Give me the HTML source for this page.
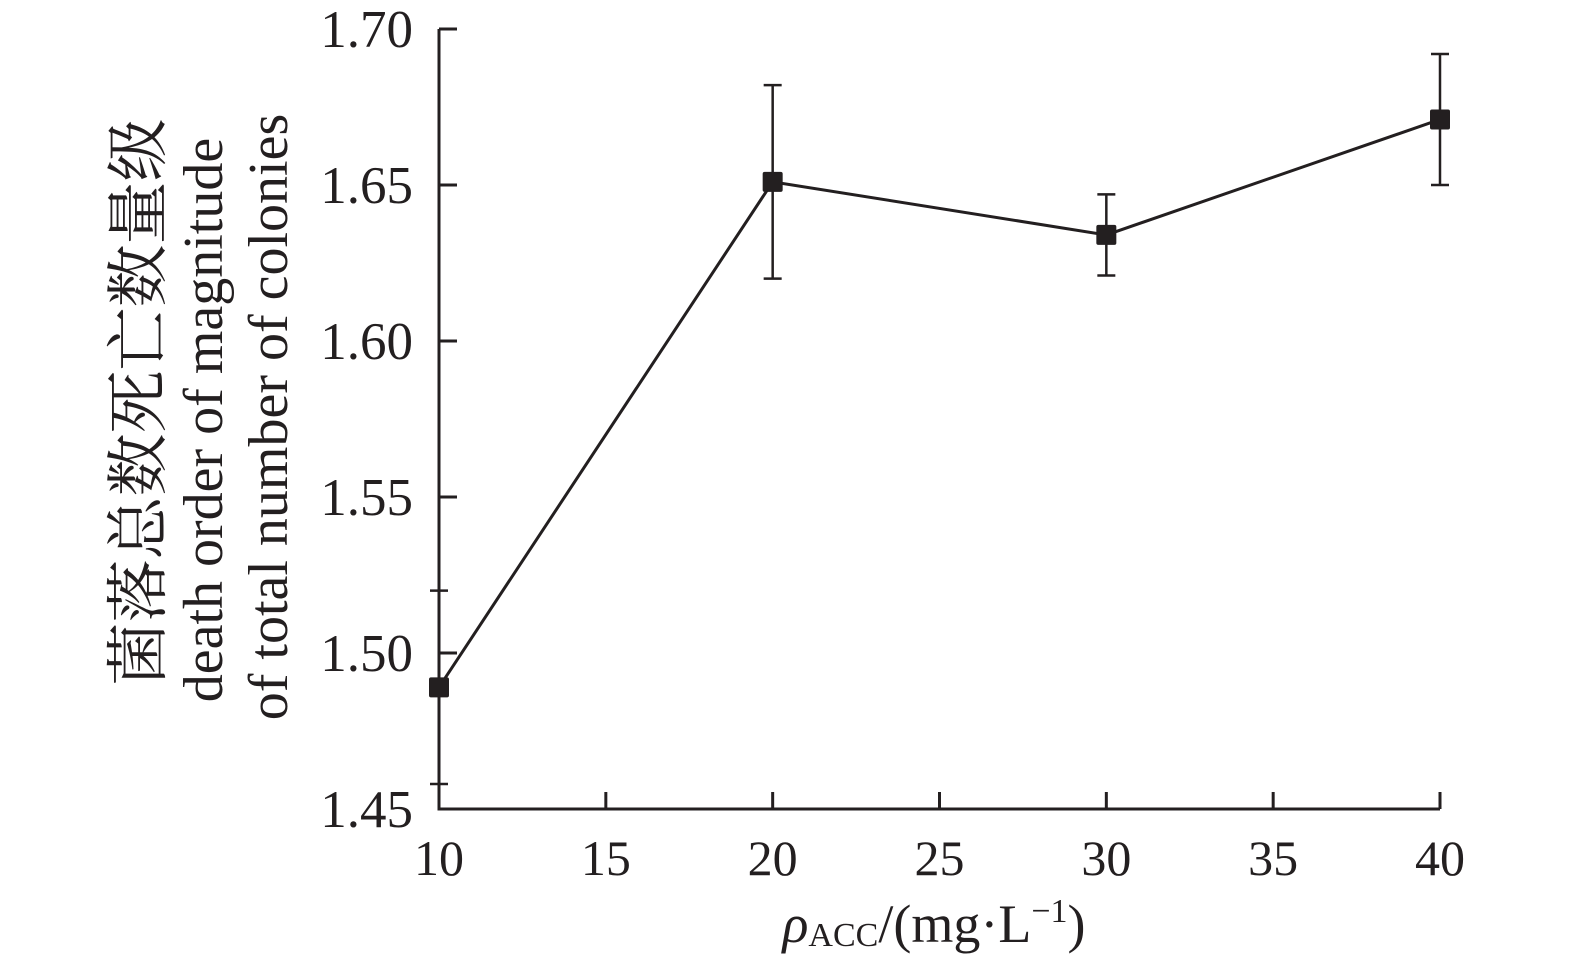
<!DOCTYPE html>
<html><head><meta charset="utf-8"><style>
html,body{margin:0;padding:0;background:#fff;}
svg{display:block;font-family:"Liberation Serif","Noto Serif CJK SC",serif;}
</style></head><body>
<svg id="chart" width="1575" height="970" viewBox="0 0 1575 970" xmlns="http://www.w3.org/2000/svg">
<g id="axes"></g><g id="series"></g>
<text transform="translate(160,402) rotate(-90)" text-anchor="middle" font-size="63" fill="#231f20">菌落总数死亡数量级</text>
<text transform="translate(222,420) rotate(-90)" text-anchor="middle" font-size="56" fill="#231f20">death order of magnitude</text>
<text transform="translate(287,417) rotate(-90)" text-anchor="middle" font-size="56" fill="#231f20">of total number of colonies</text>
<text x="934" y="942" text-anchor="middle" font-size="54" fill="#231f20"><tspan font-style="italic">ρ</tspan><tspan font-size="34" dy="4">ACC</tspan><tspan dy="-4">/(mg·L</tspan><tspan font-size="34" dy="-20">−1</tspan><tspan dy="20">)</tspan></text>
</svg>
<script>
const xValues=[10,20,30,40];
const yValues=[1.489,1.651,1.634,1.671];
const yErrors=[0.031,0.031,0.013,0.021];
const xTicks=[10,15,20,25,30,35,40];
const yTicks=["1.45","1.50","1.55","1.60","1.65","1.70"];
const NS="http://www.w3.org/2000/svg";
const X0=439,X1=1440,Y0=809,Y1=29;
function sx(v){return X0+(v-10)/30*(X1-X0);}
function sy(v){return Y0-(v-1.45)/0.25*(Y0-Y1);}
function mk(tag,attrs,parent,txt){const e=document.createElementNS(NS,tag);for(const k in attrs)e.setAttribute(k,attrs[k]);if(txt!=null)e.textContent=txt;parent.appendChild(e);return e;}
const ax=document.getElementById('axes'),se=document.getElementById('series');
const C="#231f20";
let e=mk('polyline',{points:`${X0},${Y1} ${X0},${Y0} ${X1},${Y0}`,fill:'none',stroke:C,'stroke-width':3},ax);


xTicks.forEach(t=>{
 const x=sx(t);
 let l=mk('line',{x1:x,x2:x,y1:Y0,y2:Y0-17,stroke:C,'stroke-width':3},ax);
 
 
 let tx=mk('text',{x:x,y:875,'text-anchor':'middle','font-size':50,fill:C},ax,String(t));
 
 
});
yTicks.forEach(t=>{
 const y=sy(parseFloat(t));
 let l=mk('line',{x1:X0,x2:X0+18,y1:y,y2:y,stroke:C,'stroke-width':3},ax);
 
 
 let tx=mk('text',{x:413,y:y+18,'text-anchor':'end','font-size':53,fill:C},ax,t);
 
 
});
let pl=mk('polyline',{points:xValues.map((v,i)=>sx(v)+','+sy(yValues[i])).join(' '),fill:'none',stroke:C,'stroke-width':3},se);


xValues.forEach((v,i)=>{
 const x=sx(v),y=sy(yValues[i]),t=sy(yValues[i]+yErrors[i]),b=sy(yValues[i]-yErrors[i]);
 let g=mk('path',{d:`M${x},${t}V${b}M${x-9},${t}H${x+9}M${x-9},${b}H${x+9}`,stroke:C,'stroke-width':2.5,fill:'none'},se);
 
 
 let r=mk('rect',{x:x-10,y:y-10,width:20,height:20,rx:2,fill:C},se);
 
 
});
</script>
</body></html>
